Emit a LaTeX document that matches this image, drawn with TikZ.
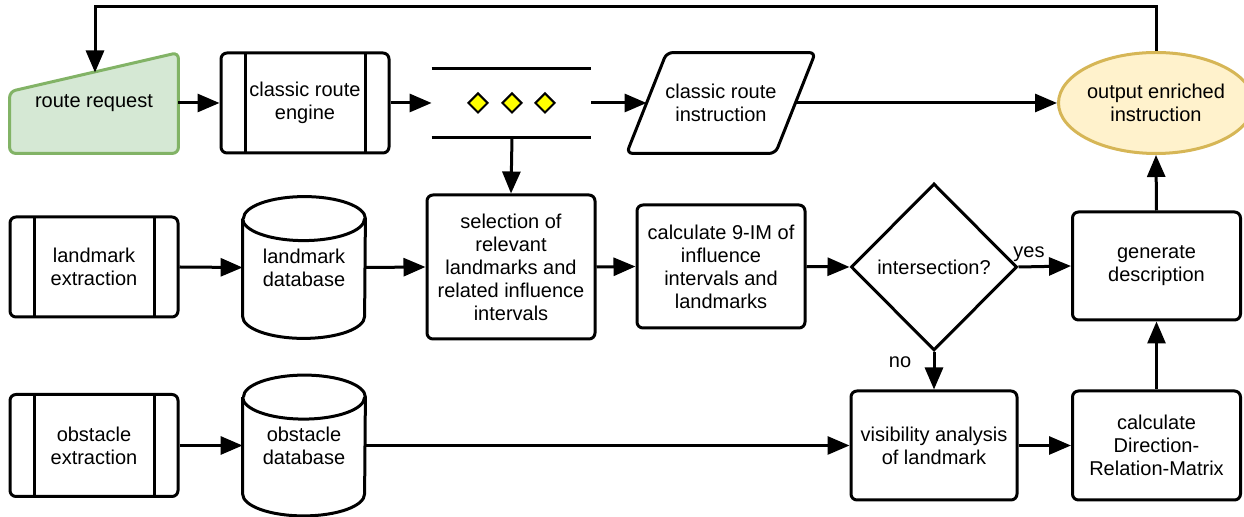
\documentclass[tikz,border=0pt]{standalone}
\usepackage{fontspec}
\setmainfont{Liberation Sans}
\usetikzlibrary{arrows.meta,shapes.geometric,backgrounds}

\definecolor{reqfill}{HTML}{D5E8D4}
\definecolor{reqdraw}{HTML}{82B366}
\definecolor{outfill}{HTML}{FFF2CC}
\definecolor{outdraw}{HTML}{D6B656}
\definecolor{tokenfill}{HTML}{FFFF00}

\tikzset{
  box/.style={draw, line width=1.5pt, rounded corners=3pt, align=center,
    minimum width=84pt, inner sep=2pt},
  subproc/.style={box, minimum height=50pt,
    path picture={\draw[line width=1.5pt]
      ([xshift=12pt]path picture bounding box.north west) -- ([xshift=12pt]path picture bounding box.south west)
      ([xshift=-12pt]path picture bounding box.north east) -- ([xshift=-12pt]path picture bounding box.south east);}},
  dbnode/.style={align=center, minimum width=61pt, inner sep=0pt},
  decision/.style={diamond, draw, line width=1.5pt, align=center, inner sep=0pt,
    minimum width=83pt, minimum height=83.5pt},
  token/.style={diamond, draw, line width=1pt, fill=tokenfill, inner sep=0pt,
    minimum width=10pt, minimum height=10pt},
  flow/.style={line width=1.5pt, -{Triangle[length=11pt,width=9pt]}},
}

% database cylinder around a named node
\newcommand{\drawdb}[1]{%
  \draw[line width=1.5pt] ([yshift=-11pt]#1.north west) -- ([yshift=11pt]#1.south west)
    arc[start angle=180, end angle=360, x radius=30.5pt, y radius=11pt]
    -- ([yshift=-11pt]#1.north east)
    arc[start angle=0, end angle=180, x radius=30.5pt, y radius=11pt];
  \draw[line width=1.5pt] ([yshift=-11pt]#1.north west)
    arc[start angle=180, end angle=360, x radius=30.5pt, y radius=11pt];
}

\begin{document}
\begin{tikzpicture}[x=0.5pt,y=-0.5pt,font=\fontsize{10}{11.5}\selectfont]
  \useasboundingbox (0,0) rectangle (1244,517);

  % top row
  \node[minimum width=84pt, minimum height=50pt, inner sep=0pt] (req) at (94,103) {route request};
  \begin{pgfonlayer}{background}
    \draw[line width=1.5pt, draw=reqdraw, fill=reqfill, rounded corners=3pt]
      (req.south west) -- ([yshift=-19.5pt]req.north west) -- (req.north east) -- (req.south east) -- cycle;
  \end{pgfonlayer}
  \coordinate (reqin) at (95,72.5);

  \node[subproc] (engine) at (305,103) {classic route\\engine};

  \node[minimum width=79.5pt, minimum height=34pt, inner sep=0pt] (queue) at (511.5,103) {};
  \draw[line width=1.5pt] (queue.north west) -- (queue.north east)
    (queue.south west) -- (queue.south east);
  \node[token] (tok1) at (478,103) {};
  \node[token] (tok2) at (512,103) {};
  \node[token] (tok3) at (545,103) {};

  \node[align=center, minimum width=74pt, minimum height=50pt, inner sep=0pt] (instr) at (721,103) {classic route\\instruction};
  \draw[line width=1.5pt, rounded corners=3pt]
    ([xshift=10pt]instr.north west) -- ([xshift=10pt]instr.north east)
    -- ([xshift=-10pt]instr.south east) -- ([xshift=-10pt]instr.south west) -- cycle;

  \node[ellipse, draw=outdraw, fill=outfill, line width=1.5pt, align=center, inner sep=0pt,
    minimum width=84pt, minimum height=50.5pt] (out) at (1156,103) {output enriched\\instruction};

  % middle row
  \node[subproc] (lex) at (94,267) {landmark\\extraction};
  \node[dbnode, minimum height=70.5pt] (ldb) at (304,267.5) {landmark\\database};
  \drawdb{ldb}
  \node[box, minimum height=72pt] (sel) at (511,267) {selection of\\relevant\\landmarks and\\related influence\\intervals};
  \node[box, minimum height=61.5pt] (calc) at (721,266.5) {calculate 9-IM of\\influence\\intervals and\\landmarks};
  \node[decision] (isect) at (934,267) {intersection?};
  \node[box, minimum height=54pt] (gen) at (1156.5,266) {generate\\description};

  % bottom row
  \node[subproc, minimum height=51pt] (oex) at (94,445.5) {obstacle\\extraction};
  \node[dbnode, minimum height=70pt] (odb) at (304,445.5) {obstacle\\database};
  \drawdb{odb}
  \node[box, minimum width=83pt, minimum height=54.5pt] (vis) at (934,445.5) {visibility analysis\\of landmark};
  \node[box, minimum height=54.5pt] (drm) at (1156.5,445.5) {calculate\\Direction-\\Relation-Matrix};

  % connectors
  \draw[flow] (req.east) -- (engine.west);
  \draw[flow] (engine.east) -- (queue.west);
  \draw[flow] (queue.east) -- (instr.west);
  \draw[flow] (instr.east) -- (out.west);
  \draw[flow] (out.north) -- ++(0,-44.5) -| (reqin);
  \draw[flow] (queue.south -| tok2) -- (sel.north);

  \draw[flow] (lex.east) -- (ldb.west);
  \draw[flow] (ldb.east) -- (sel.west);
  \draw[flow] (sel.east) -- (calc.west);
  \draw[flow] (calc.east) -- (isect.west);
  \draw[flow] (isect.east) -- (gen.west);
  \draw[flow] (isect.south) -- (vis.north);
  \draw[flow] (gen.north) -- (out.south);

  \draw[flow] (oex.east) -- (odb.west);
  \draw[flow] (odb.east) -- (vis.west);
  \draw[flow] (vis.east) -- (drm.west);
  \draw[flow] (drm.north) -- (gen.south);

  % branch labels
  \node (lblyes) at (1029,254) {yes};
  \node (lblno) at (900,362) {no};
\end{tikzpicture}
\end{document}
